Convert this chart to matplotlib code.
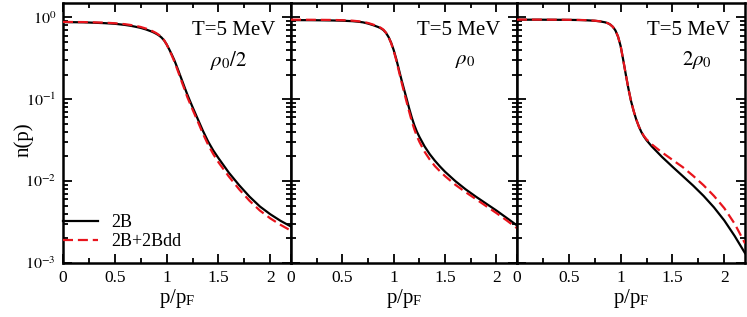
import matplotlib
matplotlib.use("Agg")
import matplotlib.pyplot as plt
from matplotlib.ticker import LogLocator, MultipleLocator, FixedLocator, FixedFormatter, NullFormatter

plt.rcParams['font.family'] = ['Liberation Serif', 'DejaVu Serif']
plt.rcParams['mathtext.fontset'] = 'stix'

# momentum grid p/p_F
p = [0, 0.2, 0.4, 0.5, 0.6, 0.65, 0.7, 0.75, 0.8, 0.85, 0.875, 0.9, 0.925, 0.95, 0.975,
     1.0, 1.025, 1.05, 1.075, 1.1, 1.125, 1.15, 1.175, 1.2, 1.225, 1.25, 1.3, 1.35, 1.4,
     1.45, 1.5, 1.6, 1.7, 1.8, 1.9, 2.0, 2.1, 2.2]

# rho0/2
n_half_2B = [0.877, 0.871, 0.851, 0.836, 0.809, 0.791, 0.769, 0.745, 0.713, 0.676, 0.655, 0.631,
             0.603, 0.569, 0.525, 0.468, 0.407, 0.351, 0.299, 0.248, 0.204, 0.168, 0.138, 0.114,
             0.0955, 0.0804, 0.0575, 0.0412, 0.0305, 0.0237, 0.0191, 0.0127, 0.00891, 0.00646,
             0.00490, 0.00394, 0.00327, 0.00279]
n_half_2Bdd = [0.881, 0.877, 0.863, 0.849, 0.826, 0.809, 0.789, 0.764, 0.731, 0.692, 0.668, 0.643,
               0.612, 0.575, 0.528, 0.468, 0.403, 0.343, 0.288, 0.237, 0.194, 0.158, 0.130, 0.106,
               0.0891, 0.0750, 0.0537, 0.0380, 0.0279, 0.0214, 0.0170, 0.0114, 0.00794, 0.00575,
               0.00437, 0.00351, 0.00292, 0.00248]
# rho0
n_one_2B = [0.927, 0.925, 0.918, 0.912, 0.899, 0.887, 0.871, 0.841, 0.804, 0.762, 0.736, 0.700,
            0.646, 0.575, 0.490, 0.398, 0.309, 0.232, 0.174, 0.133, 0.102, 0.0776, 0.0603, 0.0484,
            0.0403, 0.0347, 0.0266, 0.0214, 0.0178, 0.0151, 0.0130, 0.0100, 0.00794, 0.00646,
            0.00531, 0.00437, 0.00355, 0.00288]
n_one_2Bdd = [0.938, 0.936, 0.931, 0.925, 0.912, 0.899, 0.883, 0.855, 0.817, 0.773, 0.745, 0.708,
              0.650, 0.575, 0.484, 0.389, 0.299, 0.221, 0.164, 0.123, 0.0933, 0.0708, 0.0543,
              0.0432, 0.0355, 0.0302, 0.0229, 0.0184, 0.0153, 0.0132, 0.0115, 0.00902, 0.00733,
              0.00603, 0.00495, 0.00407, 0.00331, 0.00266]
# 2 rho0
n_two_2B = [0.938, 0.938, 0.935, 0.933, 0.929, 0.925, 0.918, 0.910, 0.895, 0.871, 0.851, 0.818,
            0.767, 0.692, 0.582, 0.447, 0.302, 0.200, 0.135, 0.0955, 0.0724, 0.0569, 0.0468,
            0.0398, 0.0351, 0.0316, 0.0266, 0.0229, 0.0197, 0.0172, 0.0150, 0.0115, 0.00881,
            0.00661, 0.00479, 0.00331, 0.00214, 0.00132]
n_two_2Bdd = [0.940, 0.940, 0.937, 0.935, 0.931, 0.927, 0.920, 0.912, 0.897, 0.872, 0.852, 0.818,
              0.767, 0.692, 0.582, 0.447, 0.302, 0.200, 0.135, 0.0955, 0.0724, 0.0569, 0.0468,
              0.0398, 0.0355, 0.0324, 0.0282, 0.0251, 0.0224, 0.0202, 0.0182, 0.0148, 0.0116,
              0.00891, 0.00661, 0.00468, 0.00302, 0.00174]

panel_labels = [r"$\rho_0/2$", r"$\rho_0$", r"$2\rho_0$"]
temp_label = "T=5 MeV"
series_labels = ["2B", "2B+2Bdd"]
xticks = [0, 0.5, 1, 1.5, 2]
xtick_labels = ["0", "0.5", "1", "1.5", "2"]
yticks = [1e-3, 1e-2, 1e-1, 1e0]
ytick_labels = [r"$10^{-3}$", r"$10^{-2}$", r"$10^{-1}$", r"$10^{0}$"]

data = [(n_half_2B, n_half_2Bdd), (n_one_2B, n_one_2Bdd), (n_two_2B, n_two_2Bdd)]

W, H = 747, 317
fig = plt.figure(figsize=(W / 100, H / 100), dpi=100)
lefts = [63, 291, 517]
rights = [291, 517, 745]
top, bottom = 3, 263

txt_pos = [((0.75, 0.895), (0.725, 0.78)),
           ((0.74, 0.895), (0.77, 0.78)),
           ((0.755, 0.895), (0.79, 0.78))]

for i in range(3):
    ax = fig.add_axes([lefts[i] / W, 1 - bottom / H, (rights[i] - lefts[i]) / W, (bottom - top) / H])
    b, r = data[i]
    ax.plot(p, b, color='black', lw=1.6, label=series_labels[0], zorder=3)
    ax.plot(p, r, color='#e8141c', lw=1.6, ls=(0, (4.5, 2.2)), label=series_labels[1], zorder=4)
    ax.set_yscale('log')
    ax.set_xlim(0, 2.2)
    ax.set_ylim(1e-3, 1.5)
    ax.xaxis.set_major_locator(FixedLocator(xticks))
    ax.xaxis.set_major_formatter(FixedFormatter(xtick_labels))
    ax.xaxis.set_minor_locator(MultipleLocator(0.25))
    ax.yaxis.set_major_locator(FixedLocator(yticks))
    ax.yaxis.set_minor_locator(LogLocator(base=10, subs=range(2, 10), numticks=20))
    ax.yaxis.set_minor_formatter(NullFormatter())
    if i == 0:
        ax.yaxis.set_major_formatter(FixedFormatter(ytick_labels))
    else:
        ax.yaxis.set_major_formatter(NullFormatter())
    ax.tick_params(which='both', direction='in', top=True, right=True, width=1.3)
    ax.tick_params(which='major', length=6.5, pad=5)
    ax.tick_params(axis='x', which='major', labelsize=12.5)
    ax.tick_params(axis='y', which='major', labelsize=11.5)
    ax.tick_params(which='minor', length=3.5)
    for s in ax.spines.values():
        s.set_linewidth(1.8)
    ax.set_xlabel(r"p/p$_\mathregular{F}$", fontsize=15, labelpad=1)
    (tx, ty), (rx, ry) = txt_pos[i]
    ax.text(tx, ty, temp_label, transform=ax.transAxes, ha='center', va='center', fontsize=15)
    ax.text(rx, ry, panel_labels[i], transform=ax.transAxes, ha='center', va='center', fontsize=15)
    if i == 0:
        ax.legend(loc='lower left', bbox_to_anchor=(0.0, 0.05), frameon=False, fontsize=13,
                  handlelength=1.95, handletextpad=0.7, borderaxespad=0, borderpad=0,
                  labelspacing=0.1)

fig.text(24 / W, 1 - 140 / H, "n(p)", rotation=90, ha='center', va='center', fontsize=15)

fig.savefig("out.png", dpi=100)
